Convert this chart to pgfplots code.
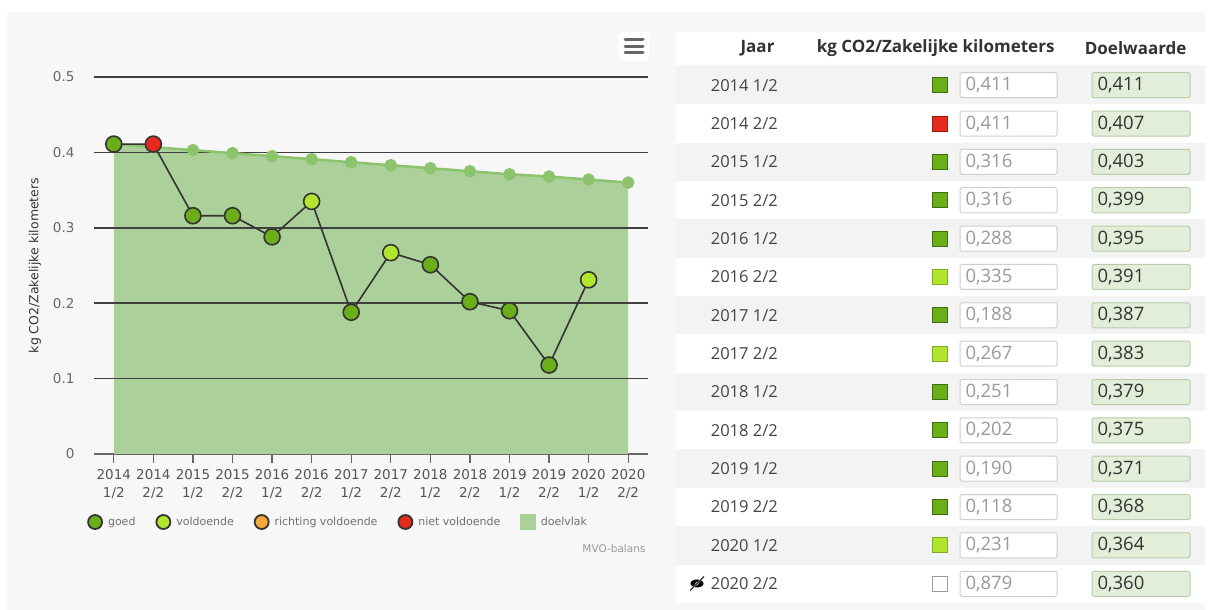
\documentclass[border=0pt]{standalone}
\usepackage{fontspec}
\setmainfont{DejaVu Sans}
\newfontfamily\tabfont{Open Sans}
\usepackage{pgfplots}
\usepackage{pgfplotstable}
\pgfplotsset{compat=1.18}
\definecolor{PanelBg}{HTML}{F7F7F7}
\definecolor{RowGray}{HTML}{F3F3F3}
\definecolor{AreaFill}{HTML}{ACD09A}
\definecolor{TargetLine}{HTML}{8CC46D}
\definecolor{Dark}{HTML}{333333}
\definecolor{Goed}{HTML}{6AAE1A}
\definecolor{Voldoende}{HTML}{B2E62E}
\definecolor{Richting}{HTML}{F8A73A}
\definecolor{Niet}{HTML}{E62B1E}
\definecolor{GridC}{HTML}{404040}
\definecolor{AxisC}{HTML}{666666}
\definecolor{YTick}{HTML}{666666}
\definecolor{XTick}{HTML}{555555}
\definecolor{LegendText}{HTML}{707070}
\definecolor{Credit}{HTML}{999999}
\definecolor{HeadText}{HTML}{333333}
\definecolor{RowText}{HTML}{444444}
\definecolor{InputText}{HTML}{9A9A9A}
\definecolor{InputBorder}{HTML}{CFCFCF}
\definecolor{DoelFill}{HTML}{E2EED9}
\definecolor{DoelBorder}{HTML}{B8CCAA}
\definecolor{GoedEdge}{HTML}{3E6E0E}
\definecolor{VoldEdge}{HTML}{7FAF1A}
\definecolor{NietEdge}{HTML}{A0180F}
\definecolor{HolEdge}{HTML}{9B9B9B}
\definecolor{IconGray}{HTML}{666666}

% i, jaar, waarde (kg CO2/km), doelwaarde, klasse
\pgfplotstableread[col sep=comma]{
i,jaar,waarde,doel,klasse
0,2014 1/2,0.411,0.411,g
1,2014 2/2,0.411,0.407,n
2,2015 1/2,0.316,0.403,g
3,2015 2/2,0.316,0.399,g
4,2016 1/2,0.288,0.395,g
5,2016 2/2,0.335,0.391,v
6,2017 1/2,0.188,0.387,g
7,2017 2/2,0.267,0.383,v
8,2018 1/2,0.251,0.379,g
9,2018 2/2,0.202,0.375,g
10,2019 1/2,0.190,0.371,g
11,2019 2/2,0.118,0.368,g
12,2020 1/2,0.231,0.364,v
13,2020 2/2,0.879,0.360,h
}\reeks

\begin{document}
\begin{tikzpicture}
% achtergrond, in pixelcoordinaten (y naar beneden)
\begin{scope}[x=1pt, y=-1pt, yshift=610pt]
\fill[white] (0,0) rectangle (1211,610);
\fill[PanelBg] (7,12) rectangle (1205,610);
\fill[white] (676,32) rectangle (1205,65);
\foreach \r in {0,2,...,12} \fill[RowGray] (676,{66+38.35*\r}) rectangle (1205,{66+38.35*(\r+1)});
\foreach \r in {1,3,...,13} \fill[white] (676,{66+38.35*\r}) rectangle (1205,{66+38.35*(\r+1)});
% menu-knop
\fill[white, rounded corners=3pt] (619,32) rectangle (649,61);
\foreach \yy in {40,46.5,53} \draw[IconGray, line width=3pt, line cap=round] (625,\yy) -- (643,\yy);
\node[anchor=east, font=\fontsize{10.5}{12}\selectfont, text=Credit] at (649,549) {MVO-balans};
% verborgen-icoon
\fill[black] (697,583.5) ellipse (6.5pt and 4pt);
\fill[white] (697,583.5) circle (1.6pt);
\draw[white, line width=1.6pt] (690.5,590) -- (703.5,577);
\draw[black, line width=0.9pt] (690,590.5) -- (704,576.5);
\end{scope}

\begin{axis}[
  at={(94pt,156pt)}, anchor=south west,
  scale only axis, width=554pt, height=377pt,
  xmin=-0.5, xmax=13.5, ymin=0, ymax=0.5,
  axis x line*=bottom, axis y line*=left,
  y axis line style={draw=none},
  x axis line style={AxisC, line width=1.4pt},
  xtick={0,...,13},
  xticklabels={{2014\\1/2},{2014\\2/2},{2015\\1/2},{2015\\2/2},{2016\\1/2},{2016\\2/2},{2017\\1/2},
    {2017\\2/2},{2018\\1/2},{2018\\2/2},{2019\\1/2},{2019\\2/2},{2020\\1/2},{2020\\2/2}},
  ytick={0,0.1,0.2,0.3,0.4,0.5},
  yticklabels={0,0.1,0.2,0.3,0.4,0.5},
  ymajorgrids, grid style={GridC, line width=1.5pt},
  xtick style={AxisC, line width=1.4pt}, ytick style={draw=none},
  tick align=outside, major tick length=9pt,
  tick label style={font=\fontsize{13.5}{18}\selectfont},
  xticklabel style={align=center, text=XTick, yshift=-3pt},
  yticklabel style={text=YTick, xshift=-7pt},
  ylabel={kg CO2/Zakelijke kilometers},
  ylabel style={font=\fontsize{12.5}{15}\selectfont, text=HeadText,
    at={(axis description cs:-0.1065,0.5)}, anchor=center},
  clip=false,
  legend columns=5,
  legend cell align=left,
  legend style={at={(axis description cs:-0.0126,-0.1804)}, anchor=west,
    draw=none, fill=none, inner sep=0pt,
    font=\fontsize{11}{13}\selectfont, text=LegendText,
    nodes={inner sep=2pt},
    /tikz/every odd column/.append style={column sep=3pt},
    /tikz/every even column/.append style={column sep=18pt}},
]
\addplot[fill=AreaFill, draw=none, forget plot] table[x=i, y=doel]{\reeks} \closedcycle;
% rasterlijnen over het doelvlak
\draw[GridC, line width=1.5pt] (axis cs:-0.5,0.1) -- (axis cs:13.5,0.1);
\draw[GridC, line width=1.5pt] (axis cs:-0.5,0.2) -- (axis cs:13.5,0.2);
\draw[GridC, line width=1.5pt] (axis cs:-0.5,0.3) -- (axis cs:13.5,0.3);
\draw[GridC, line width=1.5pt] (axis cs:-0.5,0.4) -- (axis cs:13.5,0.4);
\addplot[TargetLine, line width=2.5pt, mark=*, mark size=5pt,
  mark options={draw=none, fill=TargetLine}, forget plot] table[x=i, y=doel]{\reeks};
\addplot[Dark, line width=1.6pt, scatter, mark=*, mark size=8pt,
  point meta=explicit symbolic,
  scatter/classes={g={fill=Goed, draw=Dark}, v={fill=Voldoende, draw=Dark},
    n={fill=Niet, draw=Dark}, h={draw=none}},
  restrict x to domain=0:12, forget plot] table[x=i, y=waarde, meta=klasse]{\reeks};

\addlegendimage{legend image code/.code={\filldraw[fill=Goed,draw=Dark,line width=1.8pt] (8pt,0pt) circle (7pt);}}
\addlegendentry{goed}
\addlegendimage{legend image code/.code={\filldraw[fill=Voldoende,draw=Dark,line width=1.8pt] (8pt,0pt) circle (7pt);}}
\addlegendentry{voldoende}
\addlegendimage{legend image code/.code={\filldraw[fill=Richting,draw=Dark,line width=1.8pt] (8pt,0pt) circle (7pt);}}
\addlegendentry{richting voldoende}
\addlegendimage{legend image code/.code={\filldraw[fill=Niet,draw=Dark,line width=1.8pt] (8pt,0pt) circle (7pt);}}
\addlegendentry{niet voldoende}
\addlegendimage{legend image code/.code={\fill[AreaFill] (0.5pt,-7.5pt) rectangle (15.5pt,7.5pt);}}
\addlegendentry{doelvlak}
\end{axis}

% tabel
\begin{axis}[
  at={(676pt,7pt)}, anchor=south west,
  scale only axis, width=529pt, height=571pt,
  xmin=676, xmax=1205, ymin=32, ymax=603, y dir=reverse,
  hide axis, clip=false,
]
\node[anchor=east, font=\tabfont\bfseries\fontsize{17}{20}\selectfont, text=HeadText] at (axis cs:778,48) {Jaar};
\node[anchor=east, font=\tabfont\bfseries\fontsize{17}{20}\selectfont, text=HeadText] at (axis cs:1058,48) {kg CO2/Zakelijke kilometers};
\node[anchor=east, font=\tabfont\bfseries\fontsize{17}{20}\selectfont, text=HeadText] at (axis cs:1190,48) {Doelwaarde};

\addplot[draw=none, mark=none, point meta=explicit symbolic,
  nodes near coords={\pgfplotspointmeta},
  every node near coord/.append style={anchor=east, inner sep=0pt,
    font=\tabfont\fontsize{16.5}{19}\selectfont, text=RowText}]
  table[x expr=778, y expr={85.2+38.35*\thisrow{i}}, meta=jaar]{\reeks};

\addplot[only marks, scatter, mark=square*, mark size=7.5pt, line width=1pt,
  point meta=explicit symbolic,
  scatter/classes={g={fill=Goed, draw=GoedEdge}, v={fill=Voldoende, draw=VoldEdge},
    n={fill=Niet, draw=NietEdge}, h={fill=white, draw=HolEdge}}]
  table[x expr=939.5, y expr={85.2+38.35*\thisrow{i}}, meta=klasse]{\reeks};

\addplot[draw=none, mark=none, point meta=explicit,
  nodes near coords={\pgfmathprintnumber[fixed,fixed zerofill,precision=3,use comma,assume math mode=true]{\pgfplotspointmeta}},
  every node near coord/.append style={anchor=center, draw=InputBorder, fill=white,
    rounded corners=1.5pt, line width=1pt, text width=86pt, align=left,
    minimum height=25pt, inner xsep=5.5pt, inner ysep=0pt,
    font=\tabfont\fontsize{18.5}{21}\selectfont, text=InputText}]
  table[x expr=1008.5, y expr={85.2+38.35*\thisrow{i}}, meta=waarde]{\reeks};

\addplot[draw=none, mark=none, point meta=explicit,
  nodes near coords={\pgfmathprintnumber[fixed,fixed zerofill,precision=3,use comma,assume math mode=true]{\pgfplotspointmeta}},
  every node near coord/.append style={anchor=center, draw=DoelBorder, fill=DoelFill,
    rounded corners=1.5pt, line width=1pt, text width=87pt, align=left,
    minimum height=25pt, inner xsep=5.5pt, inner ysep=0pt,
    font=\tabfont\fontsize{18.5}{21}\selectfont, text=HeadText}]
  table[x expr=1141, y expr={85.2+38.35*\thisrow{i}}, meta=doel]{\reeks};
\end{axis}
\end{tikzpicture}
\end{document}
